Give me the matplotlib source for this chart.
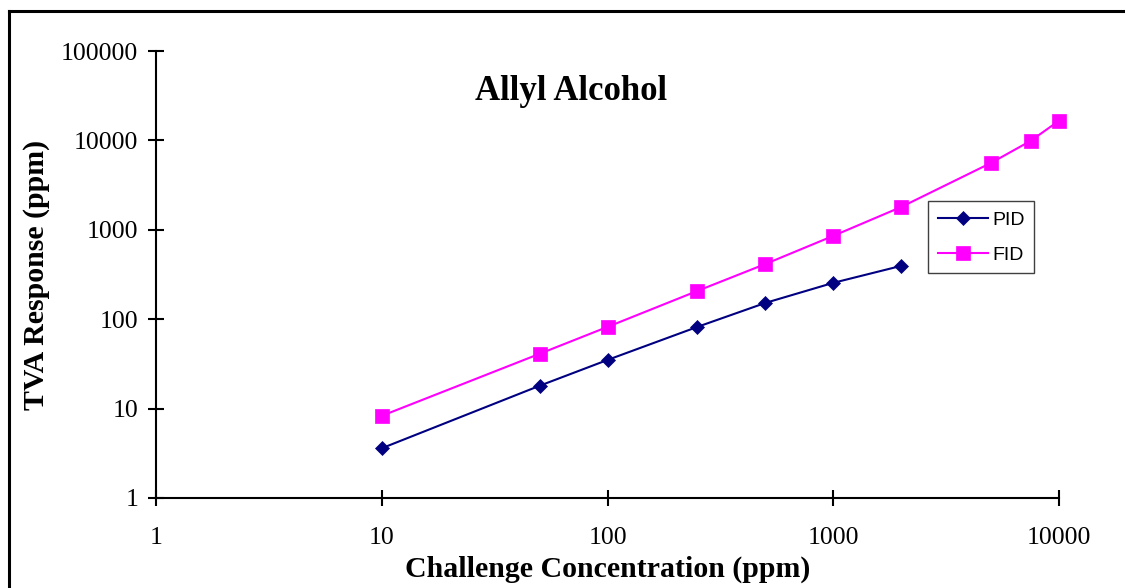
import numpy as np
import matplotlib
matplotlib.use('Agg')
import matplotlib.pyplot as plt
from matplotlib.lines import Line2D

# data
pid_conc = [10, 50, 100, 250, 500, 1000, 2000]
pid_resp = [3.6, 18, 35, 82, 152, 255, 395]
fid_conc = [10, 50, 100, 250, 500, 1000, 2000, 5000, 7500, 10000]
fid_resp = [8.3, 41, 82, 207, 414, 855, 1800, 5600, 9900, 16600]
x_ticks = [1, 10, 100, 1000, 10000]
y_ticks = [1, 10, 100, 1000, 10000, 100000]

serif = 'Liberation Serif'
plt.rcParams['font.family'] = serif

fig = plt.figure(figsize=(11.25, 5.88), dpi=100)
ax = fig.add_axes([156/1125, 1 - 498/588, (1059-156)/1125, (498-51)/588])

ax.plot(pid_conc, pid_resp, color='#000080', lw=1.5, marker='D', ms=7.3,
        mec='#000080', mew=0.5, label='PID', clip_on=False)
ax.plot(fid_conc, fid_resp, color='#FF00FF', lw=1.5, marker='s', ms=10.5,
        mec='#FF00FF', mew=0.5, label='FID', clip_on=False)

ax.set_xscale('log')
ax.set_yscale('log')
ax.set_xlim(1, 10000)
ax.set_ylim(1, 100000)
ax.set_xticks(x_ticks)
ax.set_xticklabels([str(t) for t in x_ticks])
ax.set_yticks(y_ticks)
ax.set_yticklabels([str(t) for t in y_ticks])
ax.minorticks_off()
ax.tick_params(direction='inout', length=11.5, width=1.5, labelsize=18.5, pad=7)
ax.tick_params(axis='x', pad=15)

for s in ['top', 'right']:
    ax.spines[s].set_visible(False)
for s in ['left', 'bottom']:
    ax.spines[s].set_linewidth(1.5)

ax.set_xlabel('Challenge Concentration (ppm)', fontsize=21.5, fontweight='bold', labelpad=5)
ax.set_ylabel('TVA Response (ppm)', fontsize=21.5, fontweight='bold', labelpad=8)
ax.text(0.46, 0.91, 'Allyl Alcohol', transform=ax.transAxes, fontsize=25,
        fontweight='bold', ha='center', va='center')

leg = ax.legend(loc='upper left', bbox_to_anchor=(0.855, 0.664), prop={'family': 'Liberation Sans', 'size': 14},
                frameon=True, fancybox=False, framealpha=1, edgecolor='#404040',
                handlelength=2.6, labelspacing=0.9, borderpad=0.5, handletextpad=0.2,
                borderaxespad=0)
leg.get_frame().set_linewidth(1.0)

# outer chart border (left and top visible)
fig.add_artist(Line2D([8.5/1125, 8.5/1125], [0, 1 - 11/588], color='k', lw=2.2,
                      transform=fig.transFigure))
fig.add_artist(Line2D([8.5/1125, 1], [1 - 11/588, 1 - 11/588], color='k', lw=2.2,
                      transform=fig.transFigure))

fig.savefig('out.png', dpi=100)
